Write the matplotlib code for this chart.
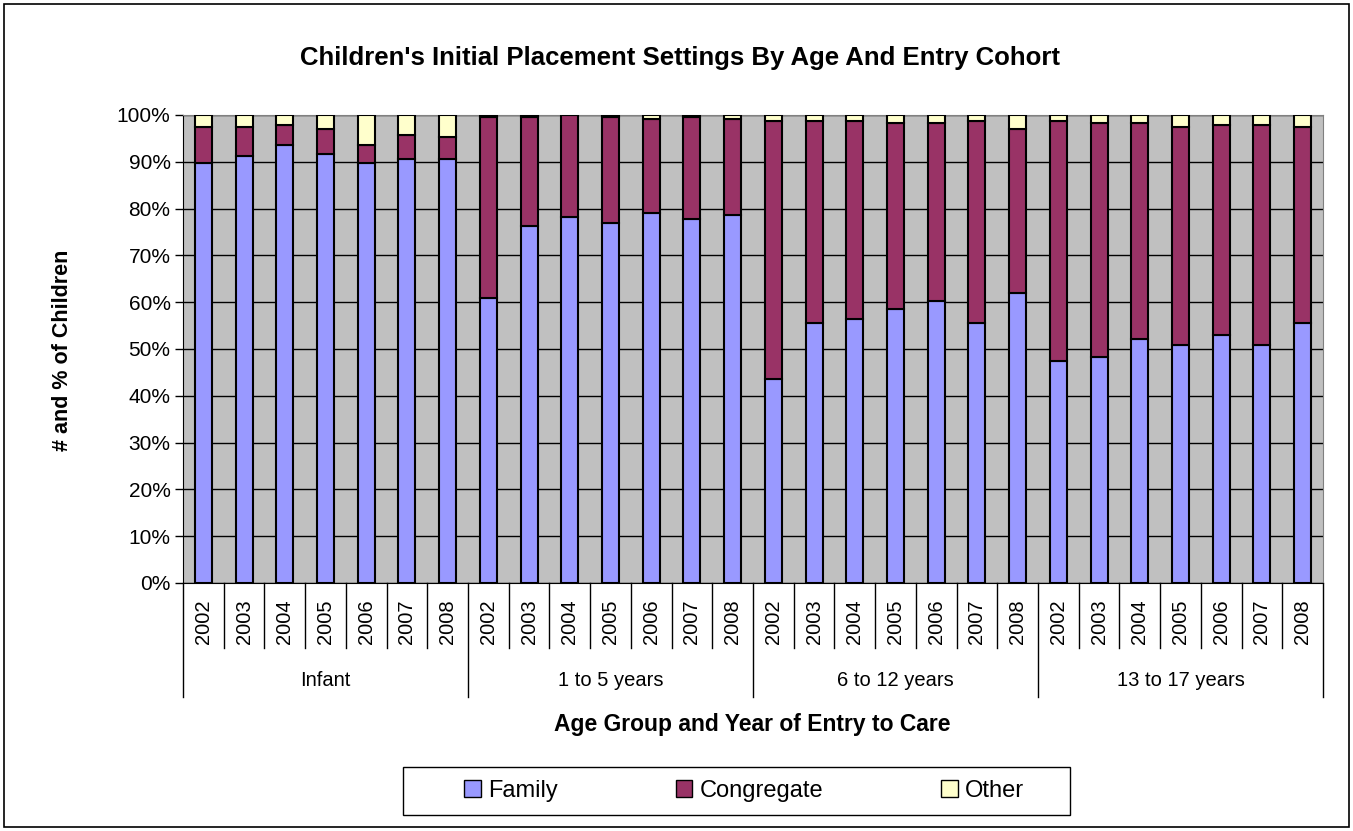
import matplotlib
matplotlib.use('Agg')
import matplotlib.pyplot as plt
from matplotlib.patches import Rectangle, Patch
import numpy as np

plt.rcParams['font.family'] = ['Liberation Sans', 'DejaVu Sans']

# data (percent of children)
groups = ['Infant', '1 to 5 years', '6 to 12 years', '13 to 17 years']
years = ['2002', '2003', '2004', '2005', '2006', '2007', '2008']

family = [89.8, 91.2, 93.6, 91.6, 89.8, 90.7, 90.7,
          60.8, 76.2, 78.2, 77.0, 79.1, 77.8, 78.7,
          43.6, 55.6, 56.4, 58.6, 60.3, 55.6, 62.0,
          47.5, 48.3, 52.2, 50.9, 53.0, 50.9, 55.6]
congregate_top = [97.4, 97.4, 97.9, 97.0, 93.6, 95.7, 95.3,
                  99.6, 99.6, 100.0, 99.6, 99.1, 99.6, 99.1,
                  98.7, 98.7, 98.7, 98.3, 98.3, 98.7, 97.0,
                  98.7, 98.3, 98.3, 97.4, 97.9, 97.9, 97.4]

family = np.array(family)
congregate = np.array(congregate_top) - family
other = 100 - np.array(congregate_top)

c_fam = '#9999FF'
c_con = '#993366'
c_oth = '#FFFFCC'

W, H = 1353, 831
fig = plt.figure(figsize=(W / 100, H / 100), dpi=100)
fig.patches.append(Rectangle((4 / W, 4 / H), 1 - 8 / W, 1 - 8 / H, transform=fig.transFigure,
                             fill=False, ec='black', lw=1.2))

ax = fig.add_axes([183 / W, 1 - 583 / H, 1140 / W, 468 / H])
ax.set_facecolor('#C0C0C0')
x = np.arange(len(family))
bw = 0.42
ax.bar(x, family, bw, color=c_fam, edgecolor='black', lw=1.5, zorder=3)
ax.bar(x, congregate, bw, bottom=family, color=c_con, edgecolor='black', lw=1.5, zorder=3)
ax.bar(x, other, bw, bottom=family + congregate, color=c_oth, edgecolor='black', lw=1.5, zorder=3)

ax.set_xlim(-0.5, len(family) - 0.5)
ax.set_ylim(0, 100)
ax.set_yticks(np.arange(0, 101, 10))
ax.set_yticklabels([f'{v}%' for v in range(0, 101, 10)], fontsize=15)
ax.yaxis.grid(True, color='black', lw=1, zorder=1)
ax.tick_params(axis='y', length=6, width=1, direction='out', pad=3)
ax.set_xticks([])
for s in ['top', 'right']:
    ax.spines[s].set_color('#808080')
ax.spines['left'].set_color('black')
ax.spines['bottom'].set_color('black')

# multi-level category axis
tr = ax.get_xaxis_transform()
yr_depth = -(648 - 583) / 468
grp_depth = -(697 - 583) / 468
for i in range(len(family) + 1):
    depth = grp_depth if i % 7 == 0 else yr_depth
    ax.plot([i - 0.5, i - 0.5], [0, depth], color='black', lw=1, transform=tr, clip_on=False)
for i in range(len(family)):
    ax.text(i, -(622 - 583) / 468, years[i % 7], rotation=90, ha='center', va='center',
            fontsize=14.5, transform=tr)
for g, name in enumerate(groups):
    ax.text(g * 7 + 3, -(680 - 583) / 468, name, ha='center', va='center',
            fontsize=14.5, transform=tr)

fig.text(680 / W, 1 - 58 / H, "Children's Initial Placement Settings By Age And Entry Cohort",
         ha='center', va='center', fontsize=18.5, fontweight='bold')
fig.text(62 / W, 1 - 350 / H, '# and % of Children', rotation=90, ha='center', va='center',
         fontsize=15.5, fontweight='bold')
fig.text(752 / W, 1 - 725 / H, 'Age Group and Year of Entry to Care', ha='center', va='center',
         fontsize=16.5, fontweight='bold')

# legend box drawn separately to get the wide padding
fig.patches.append(Rectangle((403 / W, 1 - 815 / H), 667 / W, 48 / H, transform=fig.transFigure,
                             fill=True, fc='white', ec='black', lw=1, zorder=0))
handles = [Patch(facecolor=c, edgecolor='black') for c in (c_fam, c_con, c_oth)]
leg = fig.legend(handles, ['Family', 'Congregate', 'Other'], loc='center',
                 bbox_to_anchor=(744 / W, 1 - 791 / H), ncol=3, fontsize=17,
                 frameon=False, columnspacing=5.0,
                 handlelength=0.7, handleheight=0.7, handletextpad=0.3, borderpad=0.35)

fig.savefig('out.png', dpi=100)
